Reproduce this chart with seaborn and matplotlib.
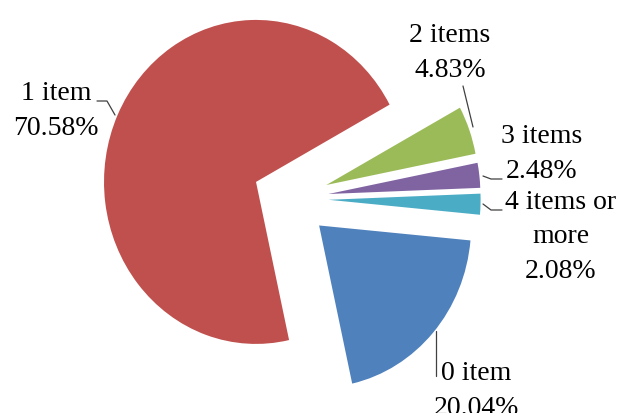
import matplotlib.pyplot as plt
import seaborn as sns

# Share of households by number of items
labels = ['0 item', '1 item', '2 items', '3 items', '4 items or\nmore']
shares = [20.04, 70.58, 4.83, 2.48, 2.08]
colors = ['#4F81BD', '#C0504D', '#9BBB59', '#8064A2', '#4BACC6']

sns.set_style('white')
plt.rcParams['font.family'] = ['Liberation Serif', 'DejaVu Serif']

W, H = 626, 414
CX, CY = 290.6, 199.7     # pie centre in pixels
RX, RY = 152.0, 162.0     # pixels per unit radius


def px(x, y):
    # convert image pixel position to data coordinates
    return (x - CX) / RX, (CY - y) / RY


fig = plt.figure(figsize=(W / 100, H / 100), dpi=100)
ax = fig.add_axes([0, 0, 1, 1])

ax.pie(shares, colors=colors, startangle=-5.3, counterclock=False,
       explode=[0.25] * len(shares), wedgeprops=dict(linewidth=0))
ax.set_aspect('auto')
ax.set_xlim(-CX / RX, (W - CX) / RX)
ax.set_ylim(-(H - CY) / RY, CY / RY)
ax.axis('off')

# label centres (pixels)
label_pos = [(476, 391), (56, 111), (450, 53), (542, 154), (561, 237)]
for lab, val, (x, y) in zip(labels, shares, label_pos):
    tx, ty = px(x, y)
    ax.text(tx, ty, f'{lab}\n{val:.2f}%', ha='center', va='center',
            multialignment='center', fontsize=20, linespacing=1.48, color='black')

# leader lines
leaders = [
    [(436, 332), (436, 377)],
    [(115, 116), (107, 102), (97, 102)],
    [(473, 128), (463, 87)],
    [(483, 177), (491, 180), (502, 180)],
    [(483, 205), (491, 211), (502, 211)],
]
for pts in leaders:
    xy = [px(x, y) for x, y in pts]
    ax.plot([p[0] for p in xy], [p[1] for p in xy], color='#404040', lw=0.9)

fig.savefig('out.png', dpi=100)
